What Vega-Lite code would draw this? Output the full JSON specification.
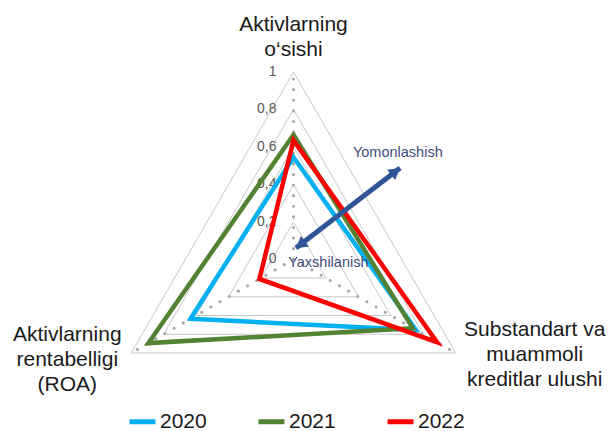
{
  "$schema": "https://vega.github.io/schema/vega-lite/v6.json",
  "width": 610,
  "height": 431,
  "autosize": {"type": "none"},
  "padding": 0,
  "background": "white",
  "config": {
    "view": {"stroke": null},
    "font": "Liberation Sans",
    "locale": {"number": {"decimal": ",", "thousands": " ", "grouping": [3], "currency": ["", ""]}}
  },
  "datasets": {
    "axes": [
      {"axis": "Aktivlarning o‘sishi", "k": 0, "label": "Aktivlarning\no‘sishi"},
      {"axis": "Substandart va muammoli kreditlar ulushi", "k": 1, "label": "Substandart va\nmuammoli\nkreditlar ulushi"},
      {"axis": "Aktivlarning rentabelligi (ROA)", "k": 2, "label": "Aktivlarning\nrentabelligi\n(ROA)"}
    ],
    "levels": [
      {"level": 0.2, "k": 0}, {"level": 0.2, "k": 1}, {"level": 0.2, "k": 2},
      {"level": 0.4, "k": 0}, {"level": 0.4, "k": 1}, {"level": 0.4, "k": 2},
      {"level": 0.6, "k": 0}, {"level": 0.6, "k": 1}, {"level": 0.6, "k": 2},
      {"level": 0.8, "k": 0}, {"level": 0.8, "k": 1}, {"level": 0.8, "k": 2},
      {"level": 1.0, "k": 0}, {"level": 1.0, "k": 1}, {"level": 1.0, "k": 2}
    ],
    "ticks": [
      {"tick": 0}, {"tick": 0.2}, {"tick": 0.4}, {"tick": 0.6}, {"tick": 0.8}, {"tick": 1}
    ],
    "series": [
      {"year": "2020", "axis": "Aktivlarning o‘sishi", "value": 0.545},
      {"year": "2020", "axis": "Substandart va muammoli kreditlar ulushi", "value": 0.755},
      {"year": "2020", "axis": "Aktivlarning rentabelligi (ROA)", "value": 0.635},
      {"year": "2021", "axis": "Aktivlarning o‘sishi", "value": 0.665},
      {"year": "2021", "axis": "Substandart va muammoli kreditlar ulushi", "value": 0.735},
      {"year": "2021", "axis": "Aktivlarning rentabelligi (ROA)", "value": 0.895},
      {"year": "2022", "axis": "Aktivlarning o‘sishi", "value": 0.635},
      {"year": "2022", "axis": "Substandart va muammoli kreditlar ulushi", "value": 0.885},
      {"year": "2022", "axis": "Aktivlarning rentabelligi (ROA)", "value": 0.21}
    ],
    "arrow": [
      {"x1": 0.013, "y1": 0.06, "x2": 0.569, "y2": 0.487}
    ],
    "arrowHeads": [
      {"end": "start", "hx": 0.037, "hy": 0.078},
      {"end": "end", "hx": 0.545, "hy": 0.469}
    ],
    "notes": [
      {"note": "Yomonlashish", "nx": 0.557, "ny": 0.568},
      {"note": "Yaxshilanish", "nx": 0.186, "ny": -0.02}
    ]
  },
  "layer": [
    {
      "data": {"name": "levels"},
      "transform": [
        {"calculate": "PI / 2 - datum.k * 2 * PI / 3", "as": "ang"},
        {"calculate": "datum.level * cos(datum.ang)", "as": "px"},
        {"calculate": "datum.level * sin(datum.ang)", "as": "py"}
      ],
      "mark": {"type": "line", "interpolate": "linear-closed", "stroke": "#C8C8C8", "strokeWidth": 1},
      "encoding": {
        "x": {"field": "px", "type": "quantitative", "scale": {"domain": [-1.567, 1.6898], "nice": false, "zero": false}, "axis": null},
        "y": {"field": "py", "type": "quantitative", "scale": {"domain": [-0.9167, 1.3844], "nice": false, "zero": false}, "axis": null},
        "detail": {"field": "level", "type": "nominal"},
        "order": {"field": "k", "type": "quantitative"}
      }
    },
    {
      "data": {"name": "axes"},
      "transform": [
        {"calculate": "PI / 2 - datum.k * 2 * PI / 3", "as": "ang"},
        {"calculate": "0", "as": "ox"},
        {"calculate": "cos(datum.ang)", "as": "vx"},
        {"calculate": "sin(datum.ang)", "as": "vy"}
      ],
      "mark": {"type": "rule", "stroke": "#A6A6A6", "strokeWidth": 3, "strokeDash": [0.1, 10.5], "strokeCap": "round"},
      "encoding": {
        "x": {"field": "ox", "type": "quantitative"},
        "y": {"field": "ox", "type": "quantitative"},
        "x2": {"field": "vx"},
        "y2": {"field": "vy"}
      }
    },
    {
      "data": {"name": "ticks"},
      "transform": [{"calculate": "0", "as": "ox"}],
      "mark": {"type": "text", "align": "right", "baseline": "middle", "dx": -17, "fontSize": 14, "fill": "#595959"},
      "encoding": {
        "x": {"field": "ox", "type": "quantitative"},
        "y": {"field": "tick", "type": "quantitative"},
        "text": {"field": "tick", "type": "quantitative", "format": ".1~f"}
      }
    },
    {
      "data": {"name": "series"},
      "transform": [
        {"lookup": "axis", "from": {"data": {"name": "axes"}, "key": "axis", "fields": ["k"]}},
        {"calculate": "PI / 2 - datum.k * 2 * PI / 3", "as": "ang"},
        {"calculate": "datum.value * cos(datum.ang)", "as": "px"},
        {"calculate": "datum.value * sin(datum.ang)", "as": "py"}
      ],
      "mark": {"type": "line", "interpolate": "linear-closed", "strokeWidth": 4.5, "strokeJoin": "miter"},
      "encoding": {
        "x": {"field": "px", "type": "quantitative"},
        "y": {"field": "py", "type": "quantitative"},
        "order": {"field": "k", "type": "quantitative"},
        "color": {
          "field": "year",
          "type": "nominal",
          "scale": {"domain": ["2020", "2021", "2022"], "range": ["#00B0F0", "#548235", "#FF0000"]},
          "legend": {
            "title": null,
            "orient": "none",
            "direction": "horizontal",
            "legendX": 127,
            "legendY": 406,
            "padding": 0,
            "symbolType": "stroke",
            "symbolSize": 676,
            "symbolStrokeWidth": 5,
            "labelFontSize": 21,
            "labelColor": "#1A1A1A",
            "labelOffset": 2,
            "columnPadding": 41
          }
        }
      }
    },
    {
      "data": {"name": "arrow"},
      "mark": {"type": "rule", "stroke": "#2F5597", "strokeWidth": 5},
      "encoding": {
        "x": {"field": "x1", "type": "quantitative"},
        "y": {"field": "y1", "type": "quantitative"},
        "x2": {"field": "x2"},
        "y2": {"field": "y2"}
      }
    },
    {
      "data": {"name": "arrowHeads"},
      "transform": [{"filter": "datum.end === 'end'"}],
      "mark": {"type": "point", "shape": "triangle-up", "filled": true, "fill": "#2F5597", "opacity": 1, "size": 170, "angle": 52.4},
      "encoding": {
        "x": {"field": "hx", "type": "quantitative"},
        "y": {"field": "hy", "type": "quantitative"}
      }
    },
    {
      "data": {"name": "arrowHeads"},
      "transform": [{"filter": "datum.end === 'start'"}],
      "mark": {"type": "point", "shape": "triangle-up", "filled": true, "fill": "#2F5597", "opacity": 1, "size": 170, "angle": 232.4},
      "encoding": {
        "x": {"field": "hx", "type": "quantitative"},
        "y": {"field": "hy", "type": "quantitative"}
      }
    },
    {
      "data": {"name": "notes"},
      "mark": {"type": "text", "align": "center", "baseline": "middle", "fontSize": 14.5, "fill": "#3E4C7A"},
      "encoding": {
        "x": {"field": "nx", "type": "quantitative"},
        "y": {"field": "ny", "type": "quantitative"},
        "text": {"field": "note", "type": "nominal"}
      }
    },
    {
      "data": {"name": "axes"},
      "transform": [
        {"filter": "datum.k === 0"},
        {"calculate": "PI / 2 - datum.k * 2 * PI / 3", "as": "ang"},
        {"calculate": "cos(datum.ang)", "as": "vx"},
        {"calculate": "sin(datum.ang)", "as": "vy"}
      ],
      "mark": {"type": "text", "align": "center", "baseline": "middle", "lineBreak": "\n", "lineHeight": 25, "fontSize": 21, "fill": "#1A1A1A", "dy": -47},
      "encoding": {
        "x": {"field": "vx", "type": "quantitative"},
        "y": {"field": "vy", "type": "quantitative"},
        "text": {"field": "label", "type": "nominal"}
      }
    },
    {
      "data": {"name": "axes"},
      "transform": [
        {"filter": "datum.k === 1"},
        {"calculate": "PI / 2 - datum.k * 2 * PI / 3", "as": "ang"},
        {"calculate": "cos(datum.ang)", "as": "vx"},
        {"calculate": "sin(datum.ang)", "as": "vy"}
      ],
      "mark": {"type": "text", "align": "center", "baseline": "middle", "lineBreak": "\n", "lineHeight": 25, "fontSize": 21, "fill": "#1A1A1A", "dx": 79, "dy": -23},
      "encoding": {
        "x": {"field": "vx", "type": "quantitative"},
        "y": {"field": "vy", "type": "quantitative"},
        "text": {"field": "label", "type": "nominal"}
      }
    },
    {
      "data": {"name": "axes"},
      "transform": [
        {"filter": "datum.k === 2"},
        {"calculate": "PI / 2 - datum.k * 2 * PI / 3", "as": "ang"},
        {"calculate": "cos(datum.ang)", "as": "vx"},
        {"calculate": "sin(datum.ang)", "as": "vy"}
      ],
      "mark": {"type": "text", "align": "center", "baseline": "middle", "lineBreak": "\n", "lineHeight": 25, "fontSize": 21, "fill": "#1A1A1A", "dx": -64, "dy": -18},
      "encoding": {
        "x": {"field": "vx", "type": "quantitative"},
        "y": {"field": "vy", "type": "quantitative"},
        "text": {"field": "label", "type": "nominal"}
      }
    }
  ]
}
